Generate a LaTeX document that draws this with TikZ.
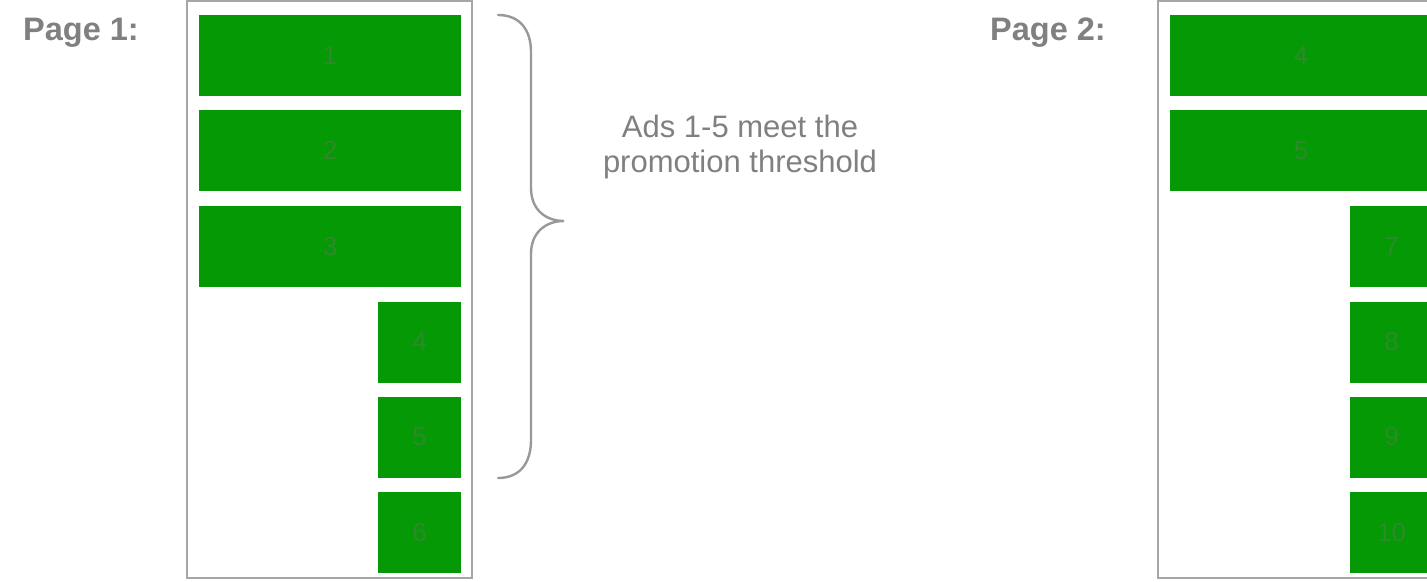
\documentclass[tikz,border=0pt]{standalone}
\usepackage{fontspec}
\setmainfont{Liberation Sans}
\begin{document}
\begin{tikzpicture}[x=1pt,y=-1pt,
  framebox/.style={draw=black!35, line width=2.4pt, inner sep=0pt, fill=white},
  ad/.style={fill=adgreen, inner sep=0pt, text=adtext, font=\fontsize{26}{30}\selectfont},
  bigad/.style={ad, minimum width=262pt, minimum height=81pt},
  smallad/.style={ad, minimum width=83pt, minimum height=81pt},
  pagelabel/.style={anchor=base west, inner sep=0pt, text=black!50, font=\bfseries\fontsize{32.5}{38}\selectfont},
  note/.style={anchor=base, inner sep=0pt, text=black!50, font=\fontsize{31}{36}\selectfont},
  bracestyle/.style={draw=black!40, line width=2.4pt, line cap=round}
]
\definecolor{adgreen}{HTML}{069906}
\definecolor{adtext}{HTML}{2E8A2A}
\useasboundingbox (0,0) rectangle (1427,581);
\fill[white] (0,0) rectangle (1427,581);

% Page 1
\node[pagelabel] (pl1) at (23,40) {Page 1:};
\node[framebox, minimum width=285pt, minimum height=577pt] (f1) at (329.5,289.5) {};
\node[bigad] (a1) at (330,55.5) {1};
\node[bigad] (a2) at (330,150.5) {2};
\node[bigad] (a3) at (330,246.5) {3};
\node[smallad] (a4) at (419.5,342) {4};
\node[smallad] (a5) at (419.5,437) {5};
\node[smallad] (a6) at (419.5,532.5) {6};

% Brace
\coordinate (btop) at (498,15);
\coordinate (btip) at (564,221);
\coordinate (bbot) at (498,478);
\draw[bracestyle] (btop) .. controls (520,15) and (531,30) .. (531,52)
  -- (531,188) .. controls (531,210) and (546,221) .. (btip)
  .. controls (546,221) and (531,232) .. (531,254)
  -- (531,440) .. controls (531,463) and (520,478) .. (bbot);

% Note
\node[note] (n1) at (740,137) {Ads 1-5 meet the};
\node[note] (n2) at (740,172) {promotion threshold};

% Page 2
\node[pagelabel] (pl2) at (990,40) {Page 2:};
\node[framebox, minimum width=285pt, minimum height=577pt] (f2) at (1300.5,289.5) {};
\node[bigad] (b1) at (1301,55.5) {4};
\node[bigad] (b2) at (1301,150.5) {5};
\node[smallad] (b3) at (1391.5,246.5) {7};
\node[smallad] (b4) at (1391.5,342) {8};
\node[smallad] (b5) at (1391.5,437) {9};
\node[smallad] (b6) at (1391.5,532.5) {10};
\end{tikzpicture}
\end{document}
